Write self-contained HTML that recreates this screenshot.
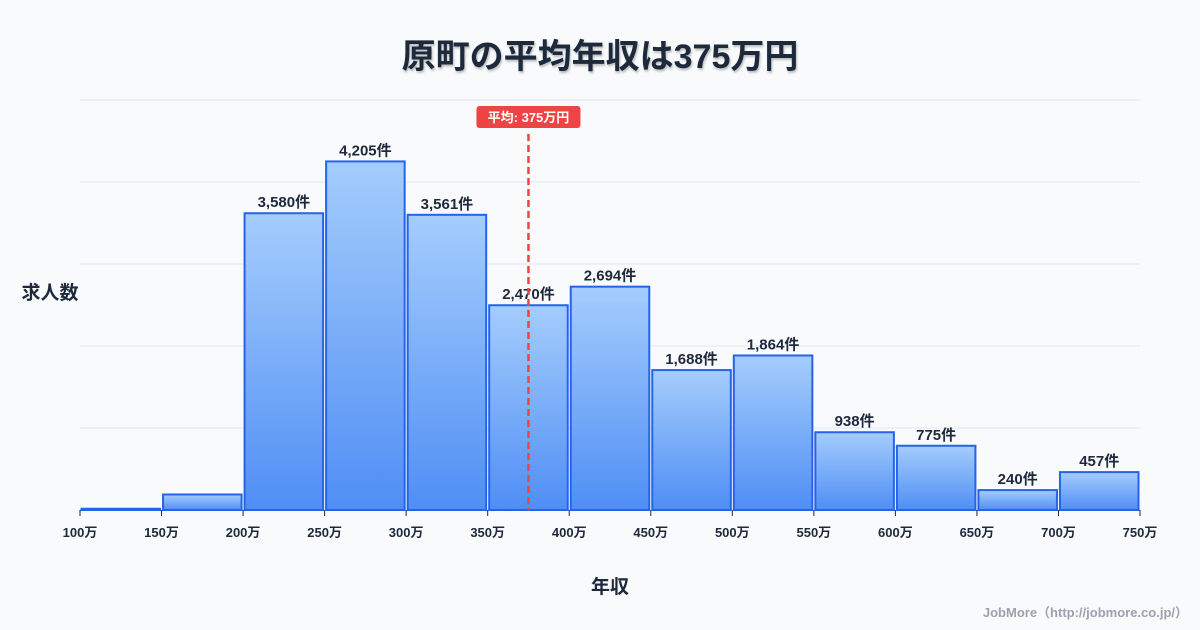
<!DOCTYPE html>
<html><head><meta charset="utf-8"><style>
body{margin:0;background:#f8fafc;font-family:"Liberation Sans","Noto Sans CJK JP",sans-serif;}
svg{display:block}
text{font-family:"Liberation Sans","Noto Sans CJK JP",sans-serif;}
</style></head><body>
<svg id="c" width="1200" height="630">
<defs>
<linearGradient id="g" x1="0" y1="0" x2="0" y2="1"><stop offset="0" stop-color="#a5cdfc"/><stop offset="1" stop-color="#4f8ef5"/></linearGradient>
<filter id="sh"><feDropShadow dx="1" dy="2" stdDeviation="1" flood-color="#000" flood-opacity="0.25"/></filter>
</defs>
<rect width="1200" height="630" fill="#f8fafc"/>
<text x="600" y="68" text-anchor="middle" font-size="34" font-weight="bold" fill="#1e293b" filter="url(#sh)">原町の平均年収は375万円</text>
<text x="50" y="299" text-anchor="middle" font-size="19" font-weight="bold" fill="#1e293b">求人数</text>
<text x="610" y="593" text-anchor="middle" font-size="19" font-weight="bold" fill="#1e293b">年収</text>
<text x="1188" y="617" text-anchor="end" font-size="13" font-weight="bold" fill="#9ca3af">JobMore（http://jobmore.co.jp/）</text>
<g id="grid"></g><g id="bars"></g><g id="axis"></g><g id="mean"></g>
</svg>
<script>
const binEdges=[100,150,200,250,300,350,400,450,500,550,600,650,700,750];
const counts=[15,187,3580,4205,3561,2470,2694,1688,1864,938,775,240,457];
const countLabels=["","","3,580件","4,205件","3,561件","2,470件","2,694件","1,688件","1,864件","938件","775件","240件","457件"];
const meanValue=375;
const yMax=4946;
const NS="http://www.w3.org/2000/svg";
const L=80,R=1140,T=100,B=510;
const x=v=>L+(v-100)/(750-100)*(R-L);
const y=v=>B-v/yMax*(B-T);
function mk(tag,attrs,parent,txt){const e=document.createElementNS(NS,tag);for(const k in attrs)e.setAttribute(k,attrs[k]);if(txt!==undefined)e.textContent=txt;parent.appendChild(e);return e;}
const grid=document.getElementById('grid'),bars=document.getElementById('bars'),axis=document.getElementById('axis'),mean=document.getElementById('mean');
for(let i=0;i<=5;i++){const yy=T+i*(B-T)/5;const l=mk('line',{x1:L,x2:R,y1:yy,y2:yy,stroke:'#e2e8f0','stroke-width':1},grid);

}
counts.forEach((c,i)=>{const x0=x(binEdges[i])+1.5,x1=x(binEdges[i+1])-1.5;const r=mk('rect',{x:x0,y:y(c),width:x1-x0,height:B-y(c),fill:'url(#g)',stroke:'#2563eb','stroke-width':2},bars);


if(countLabels[i]){const t=mk('text',{x:(x0+x1)/2,y:y(c)-6,'text-anchor':'middle','font-size':15,'font-weight':'bold',fill:'#1e293b'},bars,countLabels[i]);

}});
binEdges.forEach(v=>{const tk=mk('line',{x1:x(v),x2:x(v),y1:B,y2:B+6,stroke:'#1e293b','stroke-width':1},axis);


const t=mk('text',{x:x(v),y:B+27,'text-anchor':'middle','font-size':13,'font-weight':'bold',fill:'#1e293b'},axis,v+'万');

});
const mx=x(meanValue);
const ml=mk('line',{x1:mx,x2:mx,y1:134,y2:B,stroke:'#ef4444','stroke-width':2.5,'stroke-dasharray':'7,4'},mean);


const mb=mk('rect',{x:mx-52,y:106,width:104,height:22,rx:3,fill:'#ef4444'},mean);


const mt=mk('text',{x:mx,y:122,'text-anchor':'middle','font-size':13,'font-weight':'bold',fill:'#fff'},mean,'平均: '+meanValue+'万円');


</script>
</body></html>
